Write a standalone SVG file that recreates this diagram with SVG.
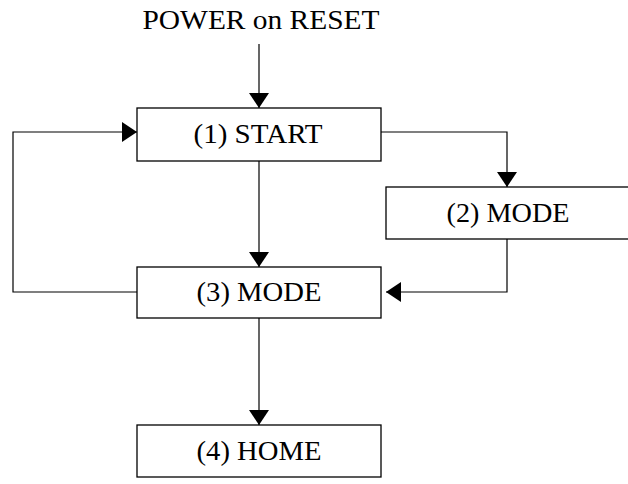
<svg xmlns="http://www.w3.org/2000/svg" width="628" height="484" viewBox="0 0 628 484">
  <style>
    .box { fill: #ffffff; stroke: #000000; stroke-width: 1.3; }
    .lbl { font-family: "Liberation Serif", "Times New Roman", serif; font-size: 28px; fill: #000000; text-anchor: middle; }
    .wire { fill: none; stroke: #000000; stroke-width: 1.2; }
  </style>
  <defs>
    <marker id="arr" markerUnits="userSpaceOnUse" markerWidth="16" markerHeight="22" refX="15" refY="10" orient="auto">
      <path d="M0,0 L15,10 L0,20 Z" fill="#000000"/>
    </marker>
  </defs>
  <rect width="628" height="484" fill="#ffffff"/>

  <g id="connectors">
    <path class="wire" d="M259,44 L259,108" marker-end="url(#arr)"/>
    <path class="wire" d="M259,161 L259,267" marker-end="url(#arr)"/>
    <path class="wire" d="M259,318 L259,425" marker-end="url(#arr)"/>
    <path class="wire" d="M381,132 L507,132 L507,187" marker-end="url(#arr)"/>
    <path class="wire" d="M507,239 L507,292 L386,292" marker-end="url(#arr)"/>
    <path class="wire" d="M137,292 L13,292 L13,132 L137,132" marker-end="url(#arr)"/>
  </g>

  <g id="power">
    <text class="lbl" x="261" y="29" textLength="237" lengthAdjust="spacingAndGlyphs">POWER on RESET</text>
  </g>

  <g id="start">
    <rect class="box" x="137" y="108" width="244" height="53"/>
    <text class="lbl" x="258" y="143" textLength="129" lengthAdjust="spacingAndGlyphs">(1) START</text>
  </g>

  <g id="mode2">
    <rect class="box" x="386" y="187" width="244" height="52"/>
    <text class="lbl" x="508" y="222" textLength="123" lengthAdjust="spacingAndGlyphs">(2) MODE</text>
  </g>

  <g id="mode3">
    <rect class="box" x="137" y="267" width="244" height="51"/>
    <text class="lbl" x="259" y="301" textLength="125" lengthAdjust="spacingAndGlyphs">(3) MODE</text>
  </g>

  <g id="home">
    <rect class="box" x="137" y="425" width="244" height="52"/>
    <text class="lbl" x="259" y="460" textLength="125" lengthAdjust="spacingAndGlyphs">(4) HOME</text>
  </g>
</svg>
